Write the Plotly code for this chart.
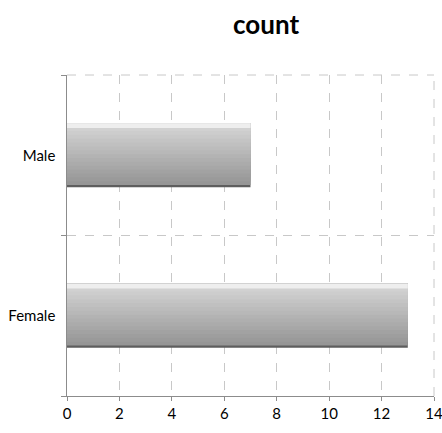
import plotly.graph_objects as go

categories = ["Female", "Male"]
counts = [13, 7]
x_ticks = [0, 2, 4, 6, 8, 10, 12, 14]
title_text = "count"

FONT = "Lato"
BAR_W = 0.4
EDGE = 0.014      # dark bottom edge thickness (category units)
HILITE = 0.03     # top highlight thickness
N_STEPS = 16
dark = (150, 150, 150)
light = (214, 214, 214)

fig = go.Figure()

# base bar (dark edge)
fig.add_trace(go.Bar(
    y=categories, x=counts, orientation="h", width=BAR_W,
    marker=dict(color="#5e5e5e", line=dict(width=0)),
    hoverinfo="skip", showlegend=False,
))
# gradient layers, lighter towards the top
body = BAR_W - EDGE
for i in range(N_STEPS):
    t = i / (N_STEPS - 1)
    c = tuple(int(dark[k] + (light[k] - dark[k]) * t) for k in range(3))
    w = body * (N_STEPS - i) / N_STEPS
    fig.add_trace(go.Bar(
        y=categories, x=counts, orientation="h", width=w, offset=BAR_W / 2 - w,
        marker=dict(color="rgb(%d,%d,%d)" % c, line=dict(width=0)),
        hoverinfo="skip", showlegend=False,
    ))
# top highlight band
fig.add_trace(go.Bar(
    y=categories, x=counts, orientation="h", width=HILITE, offset=BAR_W / 2 - HILITE,
    marker=dict(color="rgb(238,238,238)", line=dict(width=0)),
    hoverinfo="skip", showlegend=False,
))

grid = dict(color="#c8c8c8", width=1, dash="dash")
fig.update_layout(
    width=442, height=433,
    margin=dict(l=67, r=8, t=75, b=37, autoexpand=False),
    paper_bgcolor="white", plot_bgcolor="white",
    barmode="overlay",
    title=dict(text="<b>%s</b>" % title_text, x=0.602, xanchor="center", y=0.943, yanchor="middle",
               font=dict(family=FONT, size=26, color="black")),
    font=dict(family=FONT, size=14, color="black"),
    xaxis=dict(
        range=[0, 14], tickvals=x_ticks, ticktext=[str(v) for v in x_ticks],
        showgrid=True, gridcolor="#c8c8c8", griddash="dash", gridwidth=1,
        showline=True, linecolor="#8c8c8c", linewidth=1,
        ticks="outside", ticklen=4, tickcolor="#8c8c8c",
        zeroline=False, tickfont=dict(family=FONT, size=15),
        ticklabeloverflow="allow", automargin=False,
    ),
    yaxis=dict(
        type="category", categoryorder="array", categoryarray=categories,
        range=[-0.5, 1.5], tickson="boundaries",
        showgrid=True, gridcolor="#c8c8c8", griddash="dash", gridwidth=1,
        showline=True, linecolor="#8c8c8c", linewidth=1,
        ticks="outside", ticklen=5, tickcolor="#8c8c8c",
        tickfont=dict(family=FONT, size=15), ticksuffix="  ",
        automargin=False,
    ),
    shapes=[
        dict(type="line", xref="paper", yref="paper", x0=0, x1=1, y0=1, y1=1, line=grid, layer="below"),
        dict(type="line", xref="paper", yref="paper", x0=1, x1=1, y0=0, y1=1, line=grid, layer="below"),
    ],
)

fig.write_html(
    "out.html",
    config={"displayModeBar": False, "staticPlot": True},
    post_script="document.body.style.margin='0';document.body.style.overflow='hidden';",
)
